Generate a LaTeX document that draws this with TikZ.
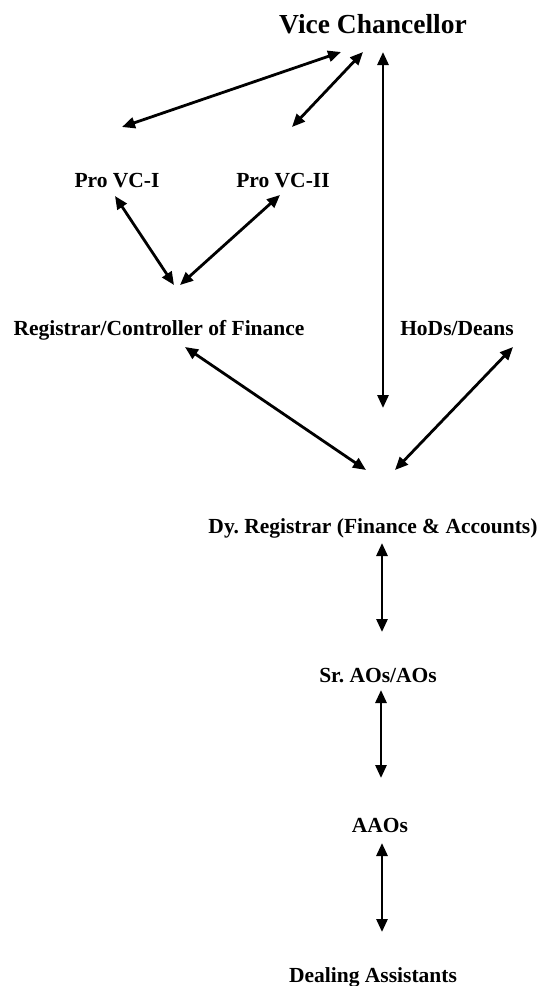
\documentclass[tikz,border=0pt]{standalone}
\usepackage{fontspec}
\setmainfont{Liberation Serif}
\usetikzlibrary{arrows.meta}
\frenchspacing
\begin{document}
\begin{tikzpicture}[x=1pt,y=-1pt,
  lbl/.style={font=\fontsize{21.5}{24}\selectfont\bfseries, anchor=base, inner sep=0pt},
  toplbl/.style={font=\fontsize{27.5}{30}\selectfont\bfseries, anchor=base, inner sep=0pt},
  link/.style={line width=2.8pt, {Triangle[length=13pt,width=11pt]}-{Triangle[length=13pt,width=11pt]}}]
\useasboundingbox (0,0) rectangle (542,986);

% offices
\node[toplbl] (vc)   at (373,33)  {Vice Chancellor};
\node[lbl]    (pvc1) at (117,187) {Pro VC-I};
\node[lbl]    (pvc2) at (283,187) {Pro VC-II};
\node[lbl]    (reg)  at (159,335) {Registrar/Controller of Finance};
\node[lbl]    (hod)  at (457,335) {HoDs/Deans};
\node[lbl]    (dyr)  at (373,533) {Dy. Registrar (Finance \& Accounts)};
\node[lbl]    (sao)  at (378,682) {Sr. AOs/AOs};
\node[lbl]    (aao)  at (380,832) {AAOs};
\node[lbl]    (da)   at (373,982) {Dealing Assistants};

% arrow end points
\coordinate (vcA) at (341,52);
\coordinate (p1A) at (122,127);
\coordinate (vcB) at (363,52);
\coordinate (p2A) at (292,127);
\coordinate (vcC) at (383,52);
\coordinate (dyA) at (383,408);
\coordinate (p1B) at (115,196);
\coordinate (rgA) at (174,285);
\coordinate (p2B) at (280,195);
\coordinate (rgB) at (180,285);
\coordinate (rgC) at (185,347);
\coordinate (dyB) at (366,470);
\coordinate (hdA) at (513,347);
\coordinate (dyC) at (395,470);
\coordinate (dyD) at (382,543);
\coordinate (saA) at (382,632);
\coordinate (saB) at (381,690);
\coordinate (aaA) at (381,778);
\coordinate (aaB) at (382,843);
\coordinate (daA) at (382,932);

% reporting links
\draw[link] (vcA) -- (p1A);
\draw[link] (vcB) -- (p2A);
\draw[link] (vcC) -- (dyA);
\draw[link] (p1B) -- (rgA);
\draw[link] (p2B) -- (rgB);
\draw[link] (rgC) -- (dyB);
\draw[link] (hdA) -- (dyC);
\draw[link] (dyD) -- (saA);
\draw[link] (saB) -- (aaA);
\draw[link] (aaB) -- (daA);
\end{tikzpicture}
\end{document}
